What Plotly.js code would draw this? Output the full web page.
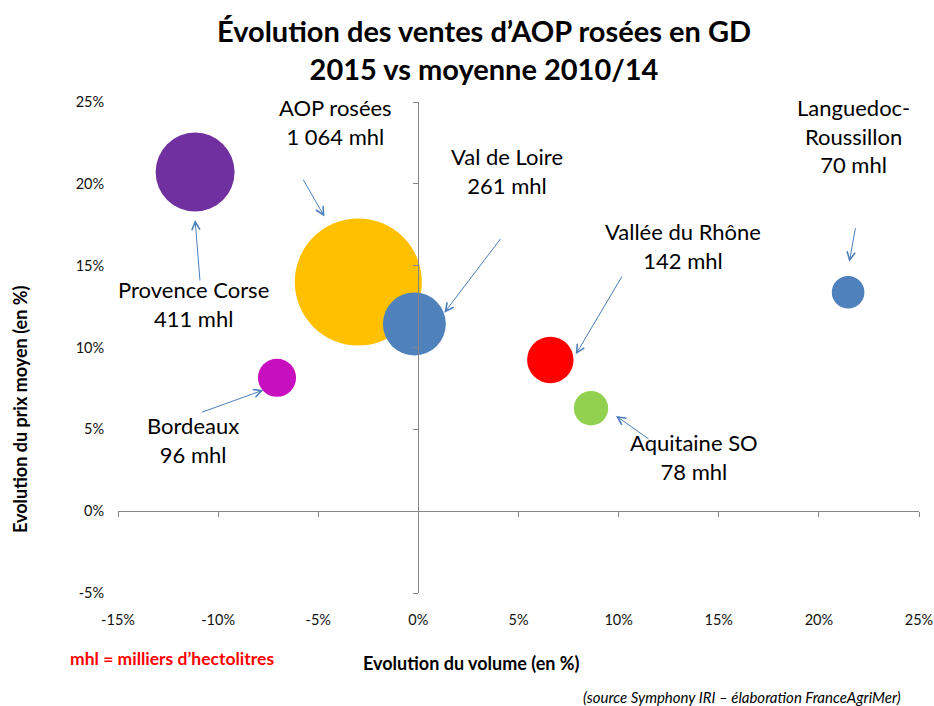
<!DOCTYPE html>
<html>
<head>
<meta charset="utf-8">
<script src="https://cdn.plot.ly/plotly-3.0.1.min.js"></script>
<style>html,body{margin:0;padding:0;background:#fff;}#chart{width:934px;height:706px;}</style>
</head>
<body>
<div id="chart"></div>
<script>
// ---- Data ----
const regions = ["Provence Corse", "AOP rosées", "Val de Loire", "Bordeaux", "Vallée du Rhône", "Aquitaine SO", "Languedoc-Roussillon"];
const labelNames = ["Provence Corse", "AOP rosées", "Val de Loire", "Bordeaux", "Vallée du Rhône", "Aquitaine SO", "Languedoc-<br>Roussillon"];
const volumeChange = [-11.15, -3.0, -0.2, -7.06, 6.59, 8.62, 21.46];   // Evolution du volume (%)
const priceChange = [20.72, 14.0, 11.44, 8.15, 9.24, 6.29, 13.38];     // Evolution du prix moyen (%)
const volumes = [411, 1064, 261, 96, 142, 78, 70];                      // mhl
const xTickVals = [-15, -10, -5, 0, 5, 10, 15, 20, 25];
const xTickText = ["-15%", "-10%", "-5%", "0%", "5%", "10%", "15%", "20%", "25%"];
const yTickVals = [-5, 0, 5, 10, 15, 20, 25];
const yTickText = ["-5%", "0%", "5%", "10%", "15%", "20%", "25%"];

// ---- Styles / positions (not data) ----
const colors = ["#7030A0", "#FFC000", "#4F81BD", "#C80FC0", "#FF0000", "#92D050", "#4F81BD"];
const labelPos = [[-11.22, 12.67], [-4.16, 23.78], [4.43, 20.78], [-11.26, 4.35], [13.23, 16.19], [13.75, 3.33], [21.75, 22.93]];
const arrowTail = [[-10.90, 14.0], [-5.79, 20.34], [4.16, 16.73], [-10.87, 6.02], [10.21, 14.43], [11.57, 4.35], [21.84, 17.38]];
const arrowHead = [[-11.15, 17.79], [-4.69, 18.0], [1.30, 12.13], [-7.74, 7.40], [7.86, 9.58], [9.87, 5.82], [21.52, 15.24]];

function fmtVol(v) {
  return String(v).replace(/\B(?=(\d{3})+(?!\d))/g, " ");
}

const FONT = "Lato, 'Open Sans', sans-serif";
const AXIS_GRAY = "#868686";

const traces = [
  {
    type: "scatter",
    mode: "markers",
    x: volumeChange,
    y: priceChange,
    text: regions,
    marker: {
      size: volumes,
      sizemode: "area",
      sizeref: 0.1318,
      color: colors,
      opacity: 1,
      line: { width: 0 }
    },
    hoverinfo: "text",
    showlegend: false
  },
  { type: "scatter", mode: "markers", x: [], y: [], xaxis: "x2", yaxis: "y2", showlegend: false, hoverinfo: "skip" }
];

const annotations = [];
for (let i = 0; i < regions.length; i++) {
  annotations.push({
    xref: "x", yref: "y",
    x: labelPos[i][0], y: labelPos[i][1],
    text: labelNames[i] + "<br>" + fmtVol(volumes[i]) + " mhl",
    showarrow: false,
    font: { family: FONT, size: 22, color: "#000" },
    align: "center",
    xanchor: "center", yanchor: "middle"
  });
  annotations.push({
    xref: "x", yref: "y", axref: "x", ayref: "y",
    x: arrowHead[i][0], y: arrowHead[i][1],
    ax: arrowTail[i][0], ay: arrowTail[i][1],
    text: "",
    showarrow: true,
    arrowhead: 5, arrowsize: 1.6, arrowwidth: 1, arrowcolor: "#4A7EBB",
    standoff: 0, startstandoff: 0
  });
}
// axis titles and notes
annotations.push({
  xref: "paper", yref: "paper", x: (471 - 118) / 801, y: -(663 - 593) / 491,
  text: "<b>Evolution du volume (en %)</b>", showarrow: false,
  font: { family: FONT, size: 18, color: "#000" }, xanchor: "center", yanchor: "middle"
});
annotations.push({
  xref: "paper", yref: "paper", x: -(118 - 20) / 801, y: (593 - 410) / 491,
  text: "<b>Evolution du prix moyen (en %)</b>", showarrow: false, textangle: -90,
  font: { family: FONT, size: 18, color: "#000" }, xanchor: "center", yanchor: "middle"
});
annotations.push({
  xref: "paper", yref: "paper", x: (68 - 118) / 801, y: -(658 - 593) / 491,
  text: "<b>mhl = milliers d’hectolitres</b>", showarrow: false,
  font: { family: FONT, size: 17.5, color: "#FF0000" }, xanchor: "left", yanchor: "middle"
});
annotations.push({
  xref: "paper", yref: "paper", x: (903 - 118) / 801, y: -(697 - 593) / 491,
  text: "<i>(source Symphony IRI – élaboration FranceAgriMer)</i>", showarrow: false,
  font: { family: FONT, size: 15, color: "#000" }, xanchor: "right", yanchor: "middle"
});

const layout = {
  width: 934, height: 706,
  margin: { l: 118, r: 15, t: 102, b: 113, pad: 0 },
  paper_bgcolor: "#fff", plot_bgcolor: "#fff",
  font: { family: FONT, color: "#000" },
  title: {
    text: "<b>Évolution des ventes d’AOP rosées en GD<br>2015 vs moyenne 2010/14</b>",
    font: { family: FONT, size: 29, color: "#000" },
    x: 484 / 934, xanchor: "center",
    y: 1 - 42 / 706, yanchor: "top", yref: "container"
  },
  xaxis: {
    range: [-15, 25], tickmode: "array", tickvals: xTickVals, ticktext: xTickText,
    showgrid: false, zeroline: false, showline: false,
    ticks: "outside", ticklen: 14, tickcolor: "rgba(0,0,0,0)",
    tickfont: { family: FONT, size: 14.5, color: "#111" }, fixedrange: true
  },
  yaxis: {
    range: [-5, 25], tickmode: "array", tickvals: yTickVals, ticktext: yTickText,
    showgrid: false, zeroline: false, showline: false,
    ticks: "outside", ticklen: 10, tickcolor: "rgba(0,0,0,0)",
    tickfont: { family: FONT, size: 14.5, color: "#111" }, fixedrange: true
  },
  xaxis2: {
    overlaying: "x", anchor: "free", position: 5 / 30,
    range: [-15, 25], tickmode: "array", tickvals: xTickVals,
    showticklabels: false, showgrid: false, zeroline: false,
    showline: true, linecolor: AXIS_GRAY, linewidth: 1,
    ticks: "outside", ticklen: 5, tickcolor: AXIS_GRAY, tickwidth: 1, fixedrange: true
  },
  yaxis2: {
    overlaying: "y", anchor: "free", position: 15 / 40,
    range: [-5, 25], tickmode: "array", tickvals: yTickVals,
    showticklabels: false, showgrid: false, zeroline: false,
    showline: true, linecolor: AXIS_GRAY, linewidth: 1,
    ticks: "outside", ticklen: 5, tickcolor: AXIS_GRAY, tickwidth: 1, fixedrange: true
  },
  annotations: annotations,
  showlegend: false,
  hovermode: false
};

Plotly.newPlot("chart", traces, layout, { displayModeBar: false, staticPlot: true });
</script>
</body>
</html>
